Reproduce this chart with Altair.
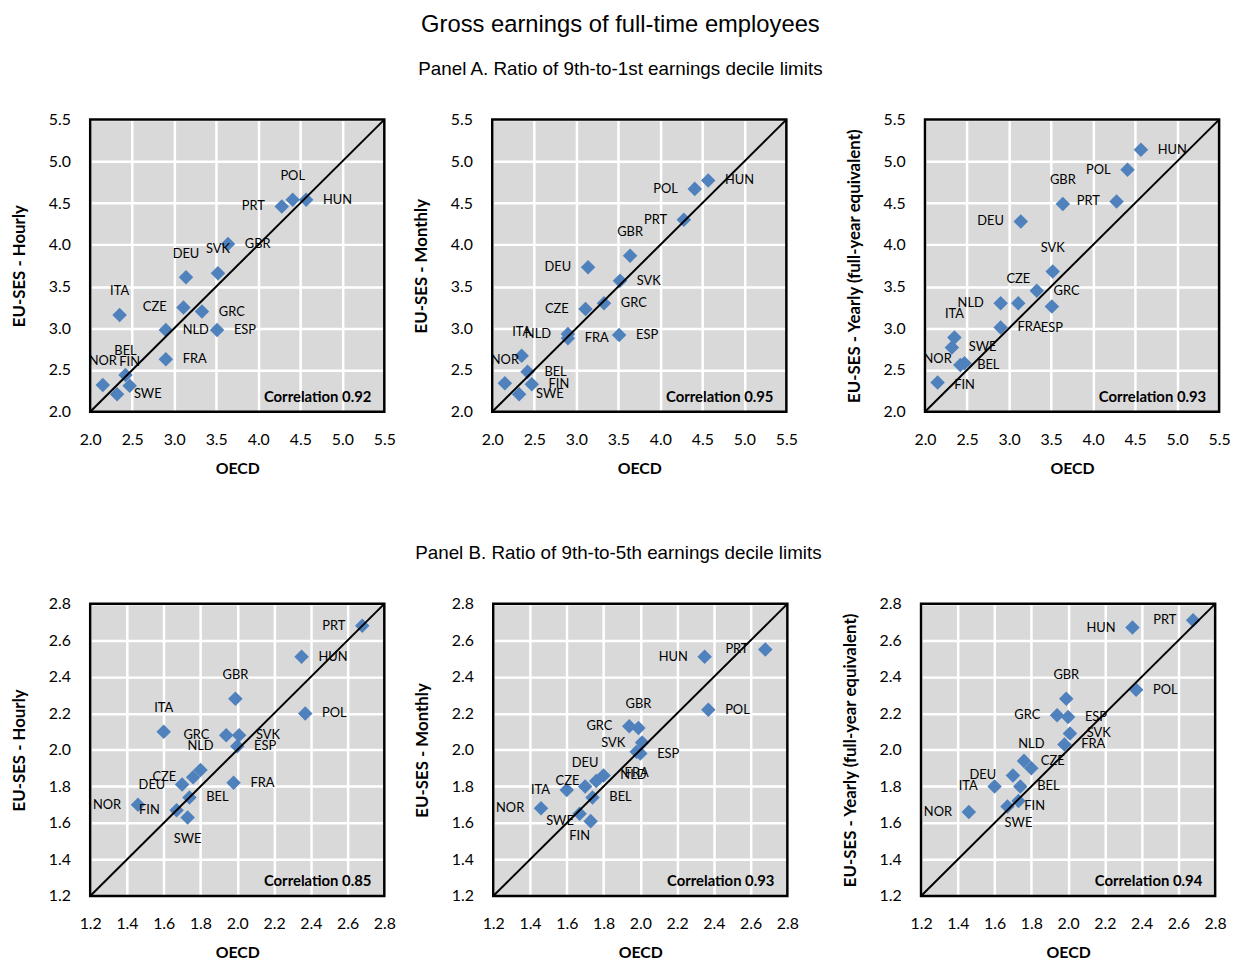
import altair as alt
import pandas as pd

countries = ["HUN", "POL", "PRT", "GBR", "SVK", "DEU", "ITA", "CZE",
             "GRC", "NLD", "ESP", "FRA", "BEL", "NOR", "FIN", "SWE"]

# Panel A: ratio of 9th-to-1st earnings decile limits
oecd_9_1 = [4.57, 4.41, 4.28, 3.64, 3.52, 3.14, 2.35, 3.11,
            3.33, 2.90, 3.51, 2.90, 2.42, 2.15, 2.47, 2.32]
hourly_9_1 = [4.54, 4.54, 4.46, 4.01, 3.66, 3.61, 3.16, 3.25,
              3.20, 2.98, 2.98, 2.63, 2.44, 2.32, 2.31, 2.21]
monthly_9_1 = [4.77, 4.67, 4.30, 3.87, 3.57, 3.73, 2.67, 3.23,
               3.30, 2.93, 2.92, 2.88, 2.48, 2.34, 2.33, 2.21]
yearly_9_1 = [5.14, 4.90, 4.52, 4.49, 3.68, 4.28, 2.89, 3.30,
              3.45, 3.30, 3.26, 3.01, 2.56, 2.35, 2.58, 2.77]

# Panel B: ratio of 9th-to-5th earnings decile limits
oecd_9_5 = [2.35, 2.37, 2.68, 1.99, 2.01, 1.70, 1.60, 1.76,
            1.94, 1.80, 2.00, 1.98, 1.74, 1.46, 1.67, 1.73]
hourly_9_5 = [2.51, 2.20, 2.68, 2.28, 2.08, 1.81, 2.10, 1.85,
              2.08, 1.89, 2.02, 1.82, 1.74, 1.70, 1.67, 1.63]
monthly_9_5 = [2.51, 2.22, 2.55, 2.12, 2.04, 1.80, 1.78, 1.83,
               2.13, 1.86, 1.98, 1.99, 1.74, 1.68, 1.65, 1.61]
yearly_9_5 = [2.67, 2.33, 2.71, 2.28, 2.09, 1.86, 1.80, 1.94,
              2.19, 1.90, 2.18, 2.03, 1.80, 1.66, 1.69, 1.72]

ticks_a = [2.0, 2.5, 3.0, 3.5, 4.0, 4.5, 5.0, 5.5]
ticks_b = [1.2, 1.4, 1.6, 1.8, 2.0, 2.2, 2.4, 2.6, 2.8]

correlations = [0.92, 0.95, 0.93, 0.85, 0.93, 0.94]
y_titles = ["EU-SES - Hourly", "EU-SES - Monthly",
            "EU-SES - Yearly (full-year equivalent)"]
main_title = "Gross earnings of full-time employees"
title_a = "Panel A. Ratio of 9th-to-1st earnings decile limits"
title_b = "Panel B. Ratio of 9th-to-5th earnings decile limits"

# label placement codes: r = right, l = left, t = above, b = below
lab_a_hourly = ["r", "t", "l", "r", "t", "t", "t", "l", "r", "r", "r", "r", "t", "t", "t", "r"]
lab_a_monthly = ["r", "l", "l", "t", "r", "l", "t", "l", "r", "l", "r", "r", "r", "t", "r", "r"]
lab_a_yearly = ["r", "l", "l", "t", "t", "l", "t", "t", "r", "l", "b", "r", "r", "t", "b", "r"]
lab_b_hourly = ["r", "r", "l", "t", "r", "l", "t", "l", "l", "t", "r", "r", "r", "l", "l", "b"]
lab_b_monthly = ["l", "r", "l", "t", "l", "t", "l", "l", "l", "r", "r", "b", "r", "l", "b", "l"]
lab_b_yearly = ["l", "r", "l", "t", "r", "l", "l", "r", "l", "t", "r", "r", "r", "l", "r", "b"]

W, H = 297, 295
BLUE = "#4F81BD"
LFONT = "Lato"
PLACE = {
    "r": dict(align="left", dx=17, dy=0),
    "l": dict(align="right", dx=-17, dy=0),
    "t": dict(align="center", dx=0, dy=-24),
    "b": dict(align="center", dx=0, dy=22),
}


def panel(xs, ys, places, corr, ytitle, ticks):
    df = pd.DataFrame({"country": countries, "x": xs, "y": ys, "place": places})
    dom = [ticks[0], ticks[-1]]
    X = alt.X("x:Q", scale=alt.Scale(domain=dom, nice=False, zero=False),
              axis=alt.Axis(values=ticks, format=".1f", title="OECD"))
    Y = alt.Y("y:Q", scale=alt.Scale(domain=dom, nice=False, zero=False),
              axis=alt.Axis(values=ticks, format=".1f", title=ytitle))
    pts = alt.Chart(df).mark_point(shape="diamond", filled=True, size=215,
                                   color=BLUE, opacity=1).encode(x=X, y=Y)
    diag = alt.Chart(pd.DataFrame({"x": dom, "y": dom})).mark_line(
        color="black", strokeWidth=2).encode(x=X, y=Y)
    layers = [pts, diag]
    for code, kw in PLACE.items():
        layers.append(
            alt.Chart(df).transform_filter(alt.datum.place == code).mark_text(
                font=LFONT, fontSize=13, color="black", baseline="middle", **kw
            ).encode(x=X, y=Y, text="country:N"))
    cdf = pd.DataFrame({"t": [f"Correlation {corr:.2f}"]})
    layers.append(alt.Chart(cdf).mark_text(
        font=LFONT, fontSize=15, fontWeight="bold", align="right",
        baseline="alphabetic", color="black").encode(
        x=alt.value(W - 13), y=alt.value(H - 10), text="t:N"))
    layers.append(alt.Chart(cdf).mark_rect(
        fillOpacity=0, stroke="black", strokeWidth=2.5).encode(
        x=alt.value(0), x2=alt.value(W), y=alt.value(0), y2=alt.value(H)))
    return alt.layer(*layers).properties(width=W, height=H)


pA = [panel(oecd_9_1, ys, lab, c, t, ticks_a) for ys, lab, c, t in zip(
    [hourly_9_1, monthly_9_1, yearly_9_1],
    [lab_a_hourly, lab_a_monthly, lab_a_yearly], correlations[:3], y_titles)]
pB = [panel(oecd_9_5, ys, lab, c, t, ticks_b) for ys, lab, c, t in zip(
    [hourly_9_5, monthly_9_5, yearly_9_5],
    [lab_b_hourly, lab_b_monthly, lab_b_yearly], correlations[3:], y_titles)]


def row_title(text):
    return alt.TitleParams(text=text, font="Liberation Sans", fontSize=19,
                           fontWeight="normal", color="black", anchor="middle",
                           frame="bounds", offset=33)


rowA = alt.hconcat(alt.hconcat(pA[0], pA[1], spacing=16),
                   pA[2], spacing=47).properties(title=row_title(title_a))
rowB = alt.hconcat(alt.hconcat(pB[0], pB[1], spacing=17),
                   pB[2], spacing=42).properties(title=row_title(title_b))

chart = alt.vconcat(rowA, rowB, spacing=67).properties(
    title=alt.TitleParams(text=main_title, font="Liberation Sans", fontSize=24,
                          fontWeight="normal", color="black", anchor="middle",
                          frame="bounds", offset=23),
    padding={"left": 2, "top": 0, "right": 0, "bottom": 0},
).configure_view(fill="#D9D9D9", stroke="transparent").configure_axis(
    labelFont=LFONT, labelFontSize=16, labelColor="black", labelFlush=False,
    labelOverlap=False, labelPadding=20, ticks=False, domain=False,
    grid=True, gridColor="white", gridWidth=2.5, gridOpacity=1,
    titleFont=LFONT, titleFontWeight="bold", titleColor="black",
).configure_axisX(titlePadding=13, titleFontSize=16).configure_axisY(
    titleFontSize=17, titlePadding=20)

chart.save("out.html", embed_options={"renderer": "svg", "actions": False})
